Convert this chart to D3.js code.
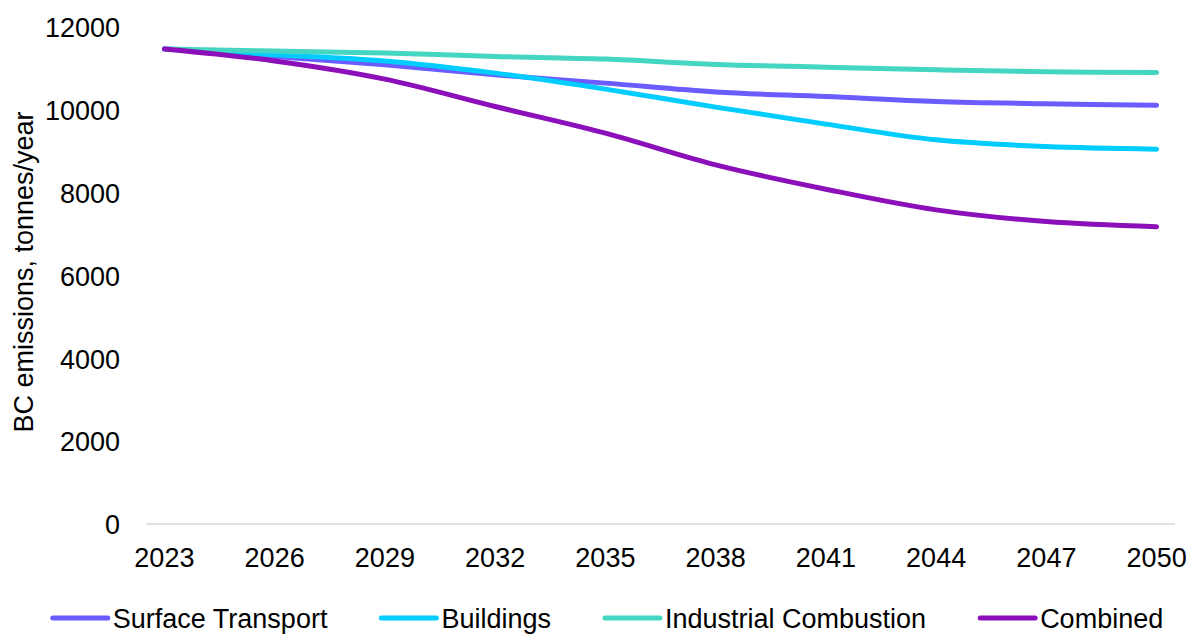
<!DOCTYPE html>
<html>
<head>
<meta charset="utf-8">
<script src="https://cdn.jsdelivr.net/npm/d3@7"></script>
<style>
  html, body { margin: 0; padding: 0; background: #ffffff; }
  svg { display: block; font-family: "Liberation Sans", Arial, sans-serif; }
</style>
</head>
<body>
<svg id="chart" width="1191" height="635"></svg>
<script>
// Projected black carbon emissions by scenario
const years = [2023, 2026, 2029, 2032, 2035, 2038, 2041, 2044, 2047, 2050];
const surfaceTransport = [11470, 11290, 11090, 10845, 10645, 10430, 10320, 10200, 10145, 10110];
const buildings        = [11470, 11330, 11180, 10886, 10500, 10065, 9655, 9275, 9114, 9050];
const industrial       = [11470, 11420, 11370, 11290, 11225, 11094, 11031, 10966, 10918, 10900];
const combined         = [11470, 11180, 10741, 10080, 9437, 8671, 8084, 7585, 7302, 7180];
const yTicks = [0, 2000, 4000, 6000, 8000, 10000, 12000];
const xTickYears = [2023, 2026, 2029, 2032, 2035, 2038, 2041, 2044, 2047, 2050];
const allYears = d3.range(2023, 2051);

const seriesNames  = ["Surface Transport", "Buildings", "Industrial Combustion", "Combined"];
const seriesValues = [surfaceTransport, buildings, industrial, combined];
const seriesColors = ["#6b5cff", "#00ccff", "#44d6c0", "#8b10b9"];

const svg = d3.select("#chart");
const fontSize = 27;

// Year slots form a band scale; points sit in the middle of each slot
const x = d3.scaleBand().domain(allYears).range([146, 1175]);
const xc = yr => x(yr) + x.bandwidth() / 2;
const y = d3.scaleLinear().domain([0, 12000]).range([524, 27]);

// Baseline
svg.append("line")
  .attr("x1", x.range()[0]).attr("x2", x.range()[1])
  .attr("y1", y(0)).attr("y2", y(0))
  .attr("stroke", "#d9d9d9").attr("stroke-width", 1.5);

// Y axis labels
const yAxis = d3.axisLeft(y).tickValues(yTicks).tickSize(0).tickPadding(0).tickFormat(d3.format("d"));
const gy = svg.append("g").attr("transform", "translate(120,0)").call(yAxis);
gy.select(".domain").remove();
gy.selectAll("text")
  .attr("font-size", fontSize).attr("fill", "#000")
  .attr("font-family", "'Liberation Sans', Arial, sans-serif")
  .attr("dy", "0.36em");

// X axis labels
const xAxis = d3.axisBottom(x).tickValues(xTickYears).tickSize(0).tickPadding(0);
const gx = svg.append("g").attr("transform", `translate(0,${y(0)})`).call(xAxis);
gx.select(".domain").remove();
gx.selectAll("text")
  .attr("font-size", fontSize).attr("fill", "#000")
  .attr("font-family", "'Liberation Sans', Arial, sans-serif")
  .attr("y", 43).attr("dy", 0);

// Y axis title
svg.append("text")
  .attr("transform", "translate(33,272) rotate(-90)")
  .attr("text-anchor", "middle")
  .attr("font-size", fontSize).attr("fill", "#000")
  .text("BC emissions, tonnes/year");

// Series lines
const line = d3.line()
  .x((d, i) => xc(years[i]))
  .y(d => y(d))
  .curve(d3.curveCatmullRom.alpha(0.5));

svg.append("g").selectAll("path")
  .data(seriesValues)
  .join("path")
  .attr("d", d => line(d))
  .attr("fill", "none")
  .attr("stroke", (d, i) => seriesColors[i])
  .attr("stroke-width", 5)
  .attr("stroke-linecap", "round")
  .attr("stroke-linejoin", "round");

// Legend along the bottom
const legend = svg.append("g");
const swatchLen = 55, swatchGap = 5, itemGap = 54, legendY = 618;
const items = seriesNames.map((name, i) => {
  const g = legend.append("g");
  g.append("line")
    .attr("x1", 0).attr("x2", swatchLen)
    .attr("y1", 0).attr("y2", 0)
    .attr("stroke", seriesColors[i]).attr("stroke-width", 5)
    .attr("stroke-linecap", "round");
  const t = g.append("text")
    .attr("x", swatchLen + swatchGap).attr("y", 10)
    .attr("font-size", fontSize).attr("fill", "#000")
    .text(name);
  return { g, w: swatchLen + swatchGap + t.node().getComputedTextLength() };
});
const totalW = d3.sum(items, d => d.w) + itemGap * (items.length - 1);
let cx = 608 - totalW / 2;
items.forEach(it => {
  it.g.attr("transform", `translate(${cx},${legendY})`);
  cx += it.w + itemGap;
});
</script>
</body>
</html>
